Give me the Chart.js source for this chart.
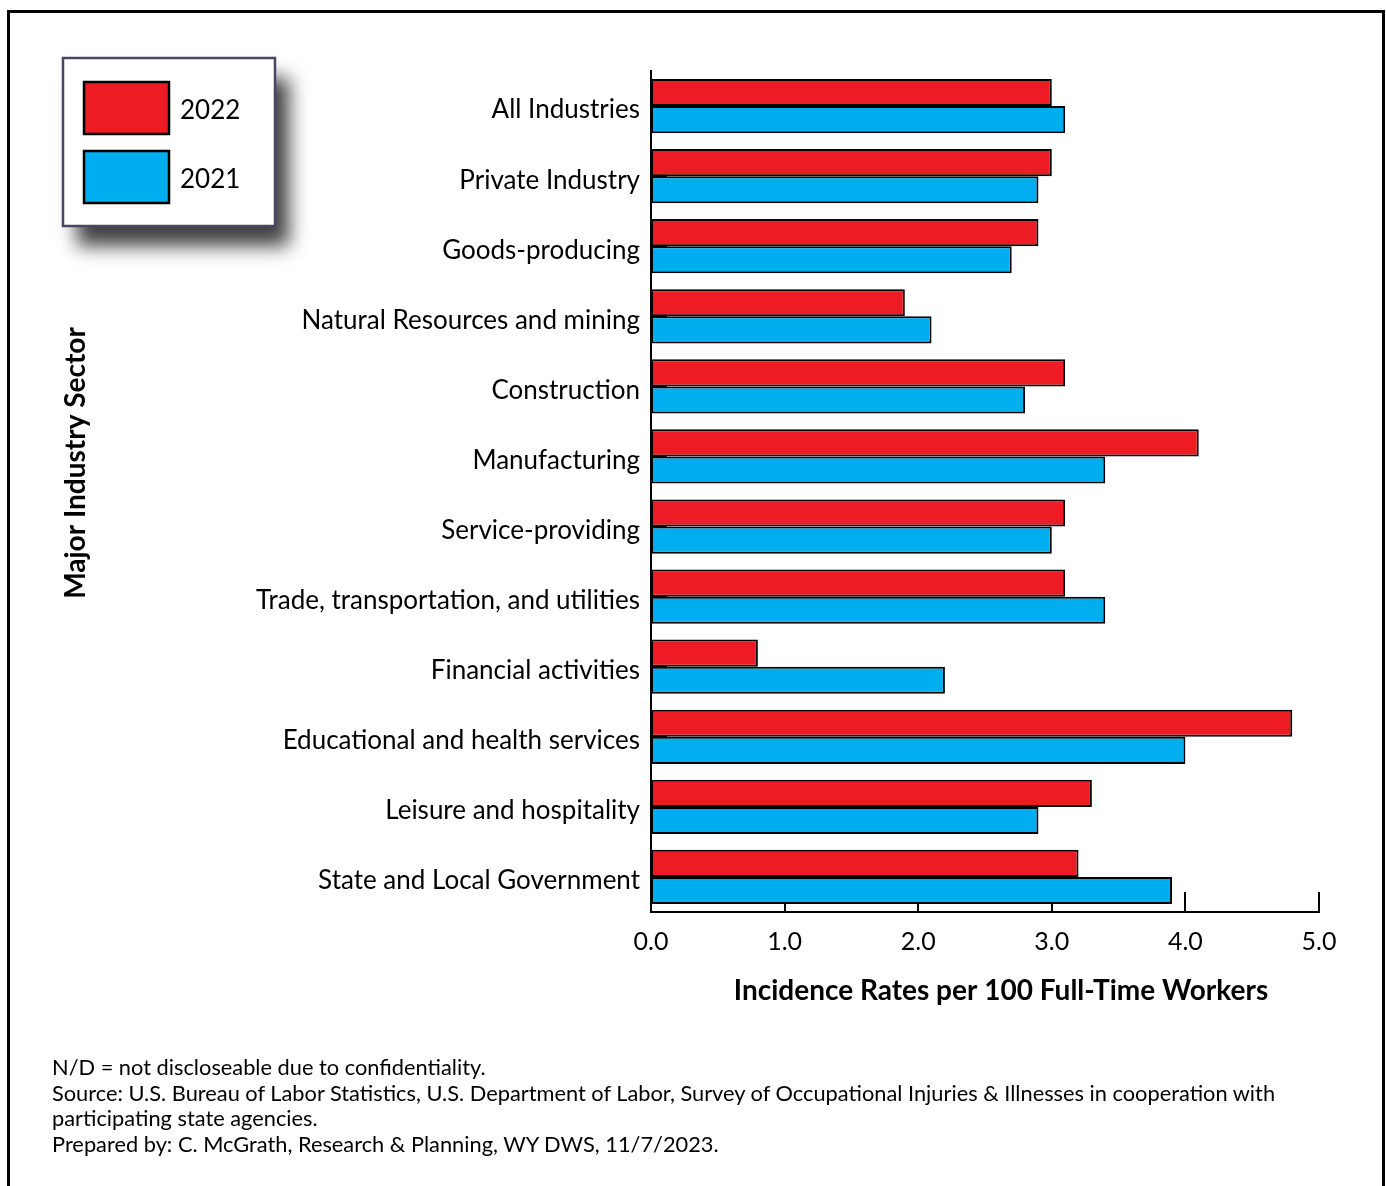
<!DOCTYPE html>
<html>
<head>
<meta charset="utf-8">
<script src="https://cdn.jsdelivr.net/npm/chart.js@4.4.0/dist/chart.umd.min.js"></script>
<style>
  html, body { margin: 0; padding: 0; background: #fff; overflow: hidden; }
  #marco { position: relative; width: 1386px; height: 1186px; }
  #borde { position: absolute; left: 7px; top: 10px; width: 1378px; height: 1200px; border: 3px solid #000; box-sizing: border-box; pointer-events: none; }
  #myChart { position: absolute; left: 0; top: 0; }
  #notas { position: absolute; left: 52px; top: 1054px; font-family: Lato, sans-serif; font-size: 21.8px; line-height: 25.5px; color: #000; }
</style>
</head>
<body>
<div id="marco">
  <canvas id="myChart" width="1386" height="1186"></canvas>
  <div id="borde"></div>
  <div id="notas">
    N/D = not discloseable due to confidentiality.<br>
    Source: U.S. Bureau of Labor Statistics, U.S. Department of Labor, Survey of Occupational Injuries &amp; Illnesses in cooperation with<br>
    participating state agencies.<br>
    Prepared by: C. McGrath, Research &amp; Planning, WY DWS, 11/7/2023.
  </div>
</div>
<script>
const sectores = [
  "All Industries",
  "Private Industry",
  "Goods-producing",
  "Natural Resources and mining",
  "Construction",
  "Manufacturing",
  "Service-providing",
  "Trade, transportation, and utilities",
  "Financial activities",
  "Educational and health services",
  "Leisure and hospitality",
  "State and Local Government"
];
const valores_2022 = [3.0, 3.0, 2.9, 1.9, 3.1, 4.1, 3.1, 3.1, 0.8, 4.8, 3.3, 3.2];
const valores_2021 = [3.1, 2.9, 2.7, 2.1, 2.8, 3.4, 3.0, 3.4, 2.2, 4.0, 2.9, 3.9];
const ticks_x = [0, 1, 2, 3, 4, 5];
const titulo_x = "Incidence Rates per 100 Full-Time Workers";
const titulo_y = "Major Industry Sector";
const leyenda = [
  { texto: "2022", color: "#ED1C24" },
  { texto: "2021", color: "#00AEEF" }
];

const fuente = "Lato, 'Open Sans', sans-serif";
const myChart = document.getElementById("myChart");

// marcas de los ejes, dibujadas debajo de las barras
const marcas_ejes = {
  id: "marcas_ejes",
  beforeDatasetsDraw(chart) {
    const ctx = chart.ctx;
    const area = chart.chartArea;
    const x = chart.scales.x;
    const y = chart.scales.y;
    ctx.save();
    ctx.strokeStyle = "#000";
    ctx.lineWidth = 2;
    ticks_x.forEach((t) => {
      const px = Math.round(x.getPixelForValue(t));
      ctx.beginPath();
      ctx.moveTo(px, area.bottom);
      ctx.lineTo(px, area.bottom - 20);
      ctx.stroke();
    });
    ctx.lineWidth = 3;
    sectores.forEach((s, i) => {
      const py = y.getPixelForValue(i);
      ctx.beginPath();
      ctx.moveTo(area.left, py);
      ctx.lineTo(area.left + 16, py);
      ctx.stroke();
    });
    ctx.restore();
  }
};

// titulos y leyenda con sombra
const extras = {
  id: "extras",
  afterDraw(chart) {
    const ctx = chart.ctx;
    ctx.save();
    ctx.fillStyle = "#000";
    ctx.textAlign = "center";
    ctx.textBaseline = "middle";
    ctx.font = "bold 28px " + fuente;
    ctx.fillText(titulo_x, 1001, 991);
    ctx.save();
    ctx.translate(76, 463);
    ctx.rotate(-Math.PI / 2);
    ctx.font = "bold 28px " + fuente;
    ctx.fillText(titulo_y, 0, 0);
    ctx.restore();

    // caja de leyenda
    ctx.save();
    ctx.shadowColor = "rgba(0,0,0,0.75)";
    ctx.shadowBlur = 18;
    ctx.shadowOffsetX = 14;
    ctx.shadowOffsetY = 20;
    ctx.fillStyle = "#fff";
    ctx.fillRect(63, 58, 212, 168);
    ctx.restore();
    ctx.strokeStyle = "#4b4563";
    ctx.lineWidth = 2.5;
    ctx.strokeRect(63, 58, 212, 168);

    leyenda.forEach((l, i) => {
      const top = 82 + i * 69;
      ctx.fillStyle = l.color;
      ctx.fillRect(84, top, 85, 52);
      ctx.strokeStyle = "#000";
      ctx.lineWidth = 2.5;
      ctx.strokeRect(84, top, 85, 52);
      ctx.fillStyle = "#000";
      ctx.textAlign = "left";
      ctx.font = "26px " + fuente;
      ctx.fillText(l.texto, 180, top + 29);
    });
    ctx.restore();
  }
};

const config = {
  type: "bar",
  data: {
    labels: sectores,
    datasets: [
      {
        label: leyenda[0].texto,
        data: valores_2022,
        backgroundColor: leyenda[0].color,
        borderColor: "#000",
        borderWidth: 2,
        borderSkipped: false
      },
      {
        label: leyenda[1].texto,
        data: valores_2021,
        backgroundColor: leyenda[1].color,
        borderColor: "#000",
        borderWidth: 2,
        borderSkipped: false
      }
    ]
  },
  options: {
    indexAxis: "y",
    responsive: false,
    animation: false,
    devicePixelRatio: 1,
    datasets: { bar: { categoryPercentage: 0.775, barPercentage: 1.0 } },
    layout: { padding: { left: 0, top: 71, right: 67, bottom: 176 } },
    plugins: { legend: { display: false }, tooltip: { enabled: false } },
    scales: {
      x: {
        min: 0,
        max: 5,
        afterBuildTicks: (s) => { s.ticks = ticks_x.map((v) => ({ value: v })); },
        afterFit: (s) => { s.height = 98; },
        grid: { display: false, drawTicks: false },
        border: { display: true, color: "#000", width: 2 },
        ticks: {
          padding: 15,
          color: "#000",
          font: { family: fuente, size: 25 },
          callback: (v) => Number(v).toFixed(1)
        }
      },
      y: {
        afterFit: (s) => { s.width = 651; },
        grid: { display: false, drawTicks: false },
        border: { display: true, color: "#000", width: 2 },
        ticks: {
          padding: 11,
          labelOffset: 4,
          color: "#000",
          font: { family: fuente, size: 26 }
        }
      }
    }
  },
  plugins: [marcas_ejes, extras]
};

new Chart(myChart, config);
</script>
</body>
</html>
